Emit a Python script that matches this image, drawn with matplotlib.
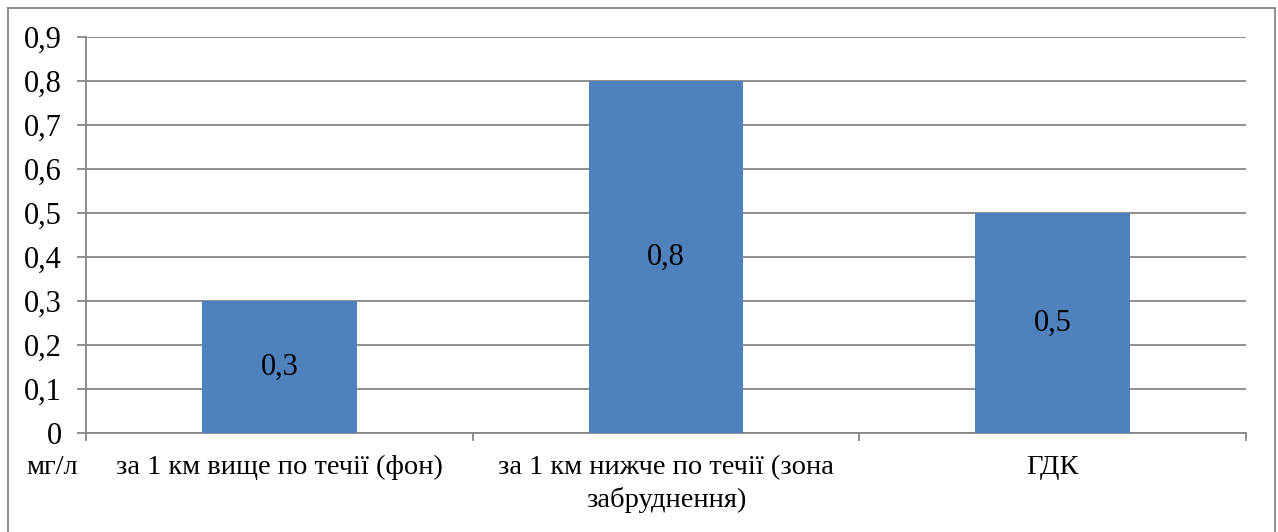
import matplotlib
matplotlib.use("Agg")
import matplotlib.pyplot as plt
from matplotlib.lines import Line2D

categories = ["за 1 км вище по течії (фон)",
              "за 1 км нижче по течії (зона\nзабруднення)",
              "ГДК"]
values = [0.3, 0.8, 0.5]
y_ticks = [0, 0.1, 0.2, 0.3, 0.4, 0.5, 0.6, 0.7, 0.8, 0.9]
unit_label = "мг/л"

plt.rcParams["font.family"] = "Liberation Serif"
FS_NUM = 22
FS_TXT = 20.5
GRID = "#868686"
BAR = "#4F81BD"

W, H = 1278, 532
fig = plt.figure(figsize=(W / 100, H / 100), dpi=100)
ax = fig.add_axes([86 / W, 1 - 433 / H, (1246 - 86) / W, (433 - 37) / H])

x = list(range(len(categories)))
bars = ax.bar(x, values, width=0.4, color=BAR, zorder=3)
for b, v in zip(bars, values):
    ax.text(b.get_x() + b.get_width() / 2, v / 2, f"{v:.1f}".replace(".", ","),
            ha="center", va="center", fontsize=FS_NUM, color="black",
            family="Liberation Serif", zorder=4)

ax.set_xlim(-0.5, len(categories) - 0.5)
ax.set_ylim(0, 0.9)
ax.set_yticks(y_ticks)
ax.set_yticklabels([("0" if t == 0 else f"{t:.1f}".replace(".", ",")) for t in y_ticks],
                   fontsize=FS_NUM, family="Liberation Serif")
ax.yaxis.grid(True, color=GRID, linewidth=1.3, zorder=0)
ax.tick_params(axis="y", length=6.5, width=1.3, color=GRID, pad=11)

# category labels centred under bars, ticks between categories
ax.set_xticks(x)
ax.set_xticklabels(categories, fontsize=FS_TXT, linespacing=1.35,
                   family="Liberation Serif")
ax.tick_params(axis="x", which="major", length=0, pad=16)
ax.set_xticks([i - 0.5 for i in range(len(categories) + 1)], minor=True)
ax.tick_params(axis="x", which="minor", length=6, width=1.3, color=GRID)

for s in ["top", "right"]:
    ax.spines[s].set_visible(False)
for s in ["left", "bottom"]:
    ax.spines[s].set_color(GRID)
    ax.spines[s].set_linewidth(1.3)

fig.text(52 / W, 1 - 468 / H, unit_label, ha="center", va="center",
         fontsize=FS_TXT, family="Liberation Serif")

# outer chart frame
fx0, fx1 = 7.5 / W, 1275 / W
fy1 = 1 - 8 / H
frame = dict(color="#868686", linewidth=1.3, transform=fig.transFigure)
fig.add_artist(Line2D([fx0, fx0], [0, fy1], **frame))
fig.add_artist(Line2D([fx0, fx1], [fy1, fy1], **frame))
fig.add_artist(Line2D([fx1, fx1], [0, fy1], **frame))

fig.savefig("out.png", dpi=100)
